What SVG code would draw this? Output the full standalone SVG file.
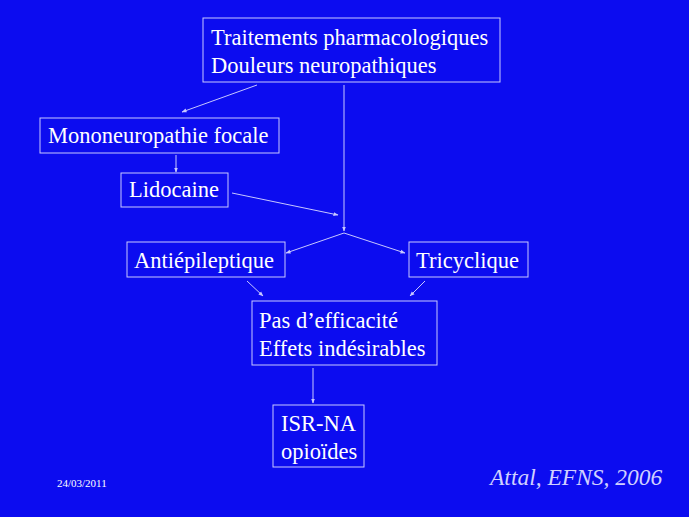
<svg xmlns="http://www.w3.org/2000/svg" width="689" height="517" viewBox="0 0 689 517">
<style>
rect.b{fill:none;stroke:#c8c8ff;stroke-width:1}
text{font-family:"Liberation Serif",serif;font-size:22.5px;fill:#fff}
.c line{stroke:#c8c8ff;stroke-width:1;marker-end:url(#a)}
</style>
<defs><marker id="a" viewBox="0 0 10 10" refX="9" refY="5" markerWidth="5" markerHeight="5" orient="auto"><path d="M0,1L10,5L0,9z" fill="#c8c8ff"/></marker></defs>
<rect width="689" height="517" fill="#0c0cf0"/>
<g id="top"><rect class="b" x="203" y="18" width="297" height="64"/><text x="211" y="45">Traitements pharmacologiques</text><text x="211" y="73">Douleurs neuropathiques</text></g>
<g id="mono"><rect class="b" x="40" y="118" width="239" height="35"/><text x="48" y="143">Mononeuropathie  focale</text></g>
<g id="lido"><rect class="b" x="121" y="173" width="107" height="34"/><text x="129" y="197">Lidocaine</text></g>
<g id="anti"><rect class="b" x="127" y="242" width="158" height="35"/><text x="134" y="268">Antiépileptique</text></g>
<g id="tri"><rect class="b" x="409" y="242" width="119" height="35"/><text x="416" y="268">Tricyclique</text></g>
<g id="pas"><rect class="b" x="252" y="301" width="185" height="64"/><text x="259" y="328">Pas d’efficacité</text><text x="259" y="356">Effets indésirables</text></g>
<g id="isr"><rect class="b" x="273" y="405" width="91" height="62"/><text x="281" y="431">ISR-NA</text><text x="281" y="459">opioïdes</text></g>
<g class="c">
<line x1="257" y1="85" x2="182" y2="112"/>
<line x1="176" y1="155" x2="176" y2="172"/>
<line x1="232" y1="193" x2="338" y2="215"/>
<line x1="344" y1="85" x2="344" y2="231"/>
<line x1="344" y1="233" x2="286" y2="253"/>
<line x1="344" y1="233" x2="405" y2="253"/>
<line x1="247" y1="281" x2="263" y2="296"/>
<line x1="425" y1="281" x2="410" y2="296"/>
<line x1="313" y1="368" x2="313" y2="403"/>
</g>
<text x="57" y="487" style="font-size:11px">24/03/2011</text>
<text x="490" y="485" style="font-style:italic;font-size:23.5px;fill:#d0d0ff">Attal, EFNS, 2006</text>
</svg>
